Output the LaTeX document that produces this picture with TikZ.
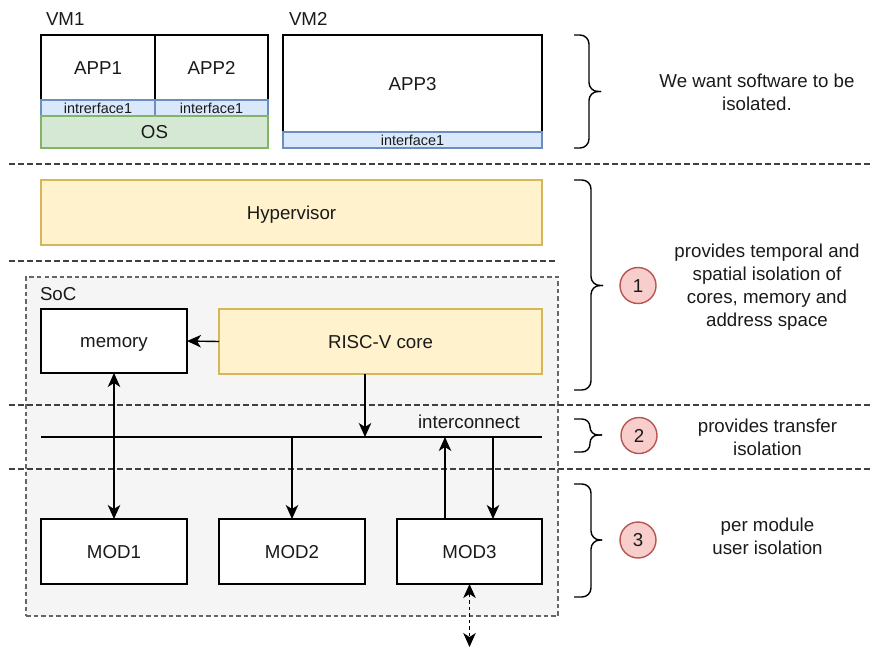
\documentclass[tikz,border=0pt]{standalone}
\usepackage{fontspec}
\setmainfont{Liberation Sans}
\usetikzlibrary{arrows.meta}
\definecolor{bfill}{HTML}{DAE8FC}\definecolor{bline}{HTML}{6C8EBF}
\definecolor{gfill}{HTML}{D5E8D4}\definecolor{gline}{HTML}{82B366}
\definecolor{yfill}{HTML}{FFF2CC}\definecolor{yline}{HTML}{D6B656}
\definecolor{rfill}{HTML}{F8CECC}\definecolor{rline}{HTML}{B85450}
\definecolor{sfill}{HTML}{F5F5F5}\definecolor{sline}{HTML}{666666}
\definecolor{txt}{HTML}{1A1A1A}
\tikzset{
  base/.style={inner sep=0pt, outer sep=0pt, text=txt, font=\fontsize{18.7}{23}\selectfont},
  one/.style={text height=13.4pt, text depth=0pt},
  box/.style={base, one, draw=black, fill=white, line width=1.4pt, rectangle},
  ifbox/.style={base, draw=bline, fill=bfill, line width=1.4pt, rectangle, font=\fontsize{14.4}{16}\selectfont, text height=10.3pt, text depth=0pt},
  osbox/.style={base, one, draw=gline, fill=gfill, line width=1.4pt, rectangle},
  ybox/.style={base, one, draw=yline, fill=yfill, line width=1.4pt, rectangle},
  socbox/.style={base, draw=sline, fill=sfill, line width=1.2pt, dash pattern=on 4.5pt off 3pt, rectangle},
  num/.style={base, one, circle, draw=rline, fill=rfill, line width=1.4pt, minimum size=36pt},
  note/.style={base, align=center},
  lbl/.style={base, one, anchor=west},
  sep/.style={draw=black!75, line width=1.3pt, dash pattern=on 5.5pt off 3.5pt},
  brc/.style={draw=black, line width=1.4pt, rounded corners=9pt},
  tip/.tip={Stealth[length=14pt,width=12.5pt,inset=4pt]},
  arr/.style={draw=black, line width=1.4pt, -tip},
  darr/.style={draw=black, line width=1.4pt, tip-tip},
  bus/.style={draw=black, line width=1.4pt}
}
\begin{document}
\begin{tikzpicture}[x=1pt, y=-1pt]
\useasboundingbox (0,0) rectangle (872,648);
% SoC
\node[socbox, minimum width=532pt, minimum height=339pt] (soc) at (292,446.5) {};
\node[lbl] (soclbl) at (40,294) {SoC};
% separators
\draw[sep] (9,164) -- (872,164);
\draw[sep] (9,261) -- (557,261);
\draw[sep] (9,405) -- (872,405);
\draw[sep] (9,469) -- (872,469);
% VMs
\node[lbl] (vm1) at (46,19) {VM1};
\node[lbl] (vm2) at (289,19) {VM2};
\node[box, minimum width=114pt, minimum height=65pt] (app1) at (98,67.5) {APP1};
\node[box, minimum width=113pt, minimum height=65pt] (app2) at (211.5,67.5) {APP2};
\node[ifbox, minimum width=114pt, minimum height=16pt] (if1) at (98,108) {intrerface1};
\node[ifbox, minimum width=113pt, minimum height=16pt] (if2) at (211.5,108) {interface1};
\node[osbox, minimum width=227pt, minimum height=32pt] (os) at (154.5,132) {OS};
\node[box, minimum width=259pt, minimum height=97pt] (app3) at (412.5,83.5) {APP3};
\node[ifbox, minimum width=259pt, minimum height=16pt] (if3) at (412.5,140) {interface1};
% hypervisor
\node[ybox, minimum width=501pt, minimum height=65pt] (hyp) at (291.5,212.5) {Hypervisor};
% SoC content
\node[box, minimum width=146pt, minimum height=64pt] (mem) at (114,341) {memory};
\node[ybox, minimum width=323pt, minimum height=65pt] (risc) at (380.5,341.5) {RISC-V core};
\node[box, minimum width=146pt, minimum height=65pt] (mod1) at (114,551.5) {MOD1};
\node[box, minimum width=146pt, minimum height=65pt] (mod2) at (292,551.5) {MOD2};
\node[box, minimum width=145pt, minimum height=65pt] (mod3) at (469.5,551.5) {MOD3};
\coordinate (ic1) at (41,437);
\coordinate (ic2) at (542,437);
\draw[bus] (ic1) -- (ic2);
\node[base, one] (iclbl) at (469,422) {interconnect};
\coordinate (ext) at (469.5,647);
\coordinate (rs) at ([xshift=-15.5pt]risc.south);
\coordinate (m3u) at ([xshift=-24.5pt]mod3.north);
\coordinate (m3d) at ([xshift=23.5pt]mod3.north);
% connectors
\draw[arr] (risc.west) -- (mem.east);
\draw[arr] (rs) -- (ic1 -| rs);
\draw[darr] (mem.south) -- (mod1.north);
\draw[arr] (ic1 -| mod2.north) -- (mod2.north);
\draw[arr] (m3u) -- (ic1 -| m3u);
\draw[arr] (ic1 -| m3d) -- (m3d);
\draw[darr, dash pattern=on 3.5pt off 3pt] (mod3.south) -- (ext);
% braces
\draw[brc] (574,35) -- (589,35) -- (589,91.5) -- (601,91.5);
\draw[brc] (601,91.5) -- (589,91.5) -- (589,148) -- (574,148);
\draw[brc] (574,180) -- (591,180) -- (591,285.5) -- (603,285.5);
\draw[brc] (603,285.5) -- (591,285.5) -- (591,390) -- (574,390);
\draw[brc, rounded corners=8pt] (574,419) -- (590,419) -- (590,435) -- (602,435);
\draw[brc, rounded corners=8pt] (602,435) -- (590,435) -- (590,452) -- (574,452);
\draw[brc] (574,484) -- (591,484) -- (591,540) -- (602,540);
\draw[brc] (602,540) -- (591,540) -- (591,597) -- (574,597);
% numbers
\node[num] (n1) at (638,285.5) {1};
\node[num] (n2) at (639,435.5) {2};
\node[num] (n3) at (638,540) {3};
% notes
\node[note] (t0) at (757,92) {We want software to be\\isolated.};
\node[note] (t1) at (767,287) {provides temporal and\\spatial isolation of\\cores, memory and\\address space};
\node[note] (t2) at (767.5,437) {provides transfer\\isolation};
\node[note] (t3) at (767.5,536) {per module\\user isolation};
\end{tikzpicture}
\end{document}
